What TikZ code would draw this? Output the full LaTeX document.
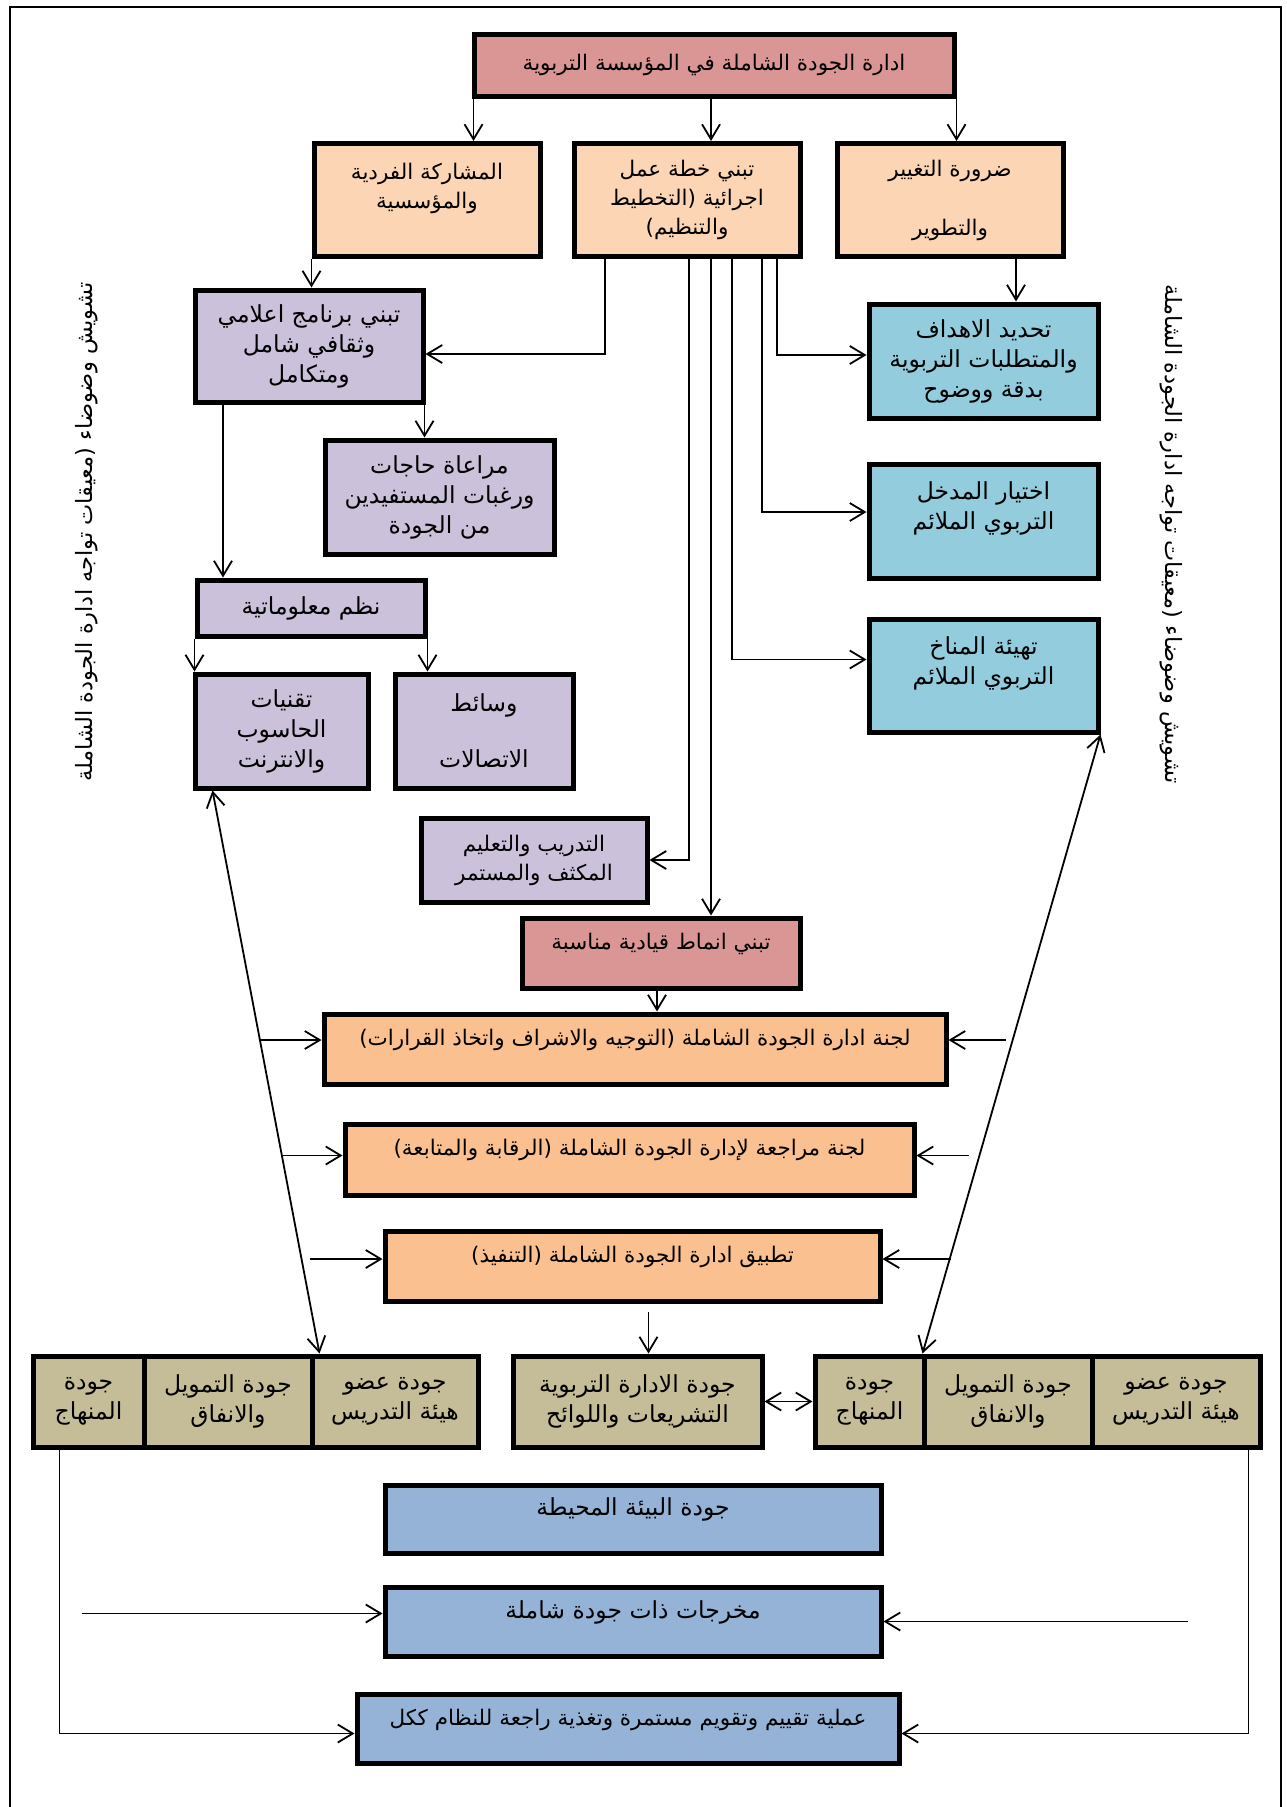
\documentclass[tikz,border=0pt]{standalone}
\usepackage{fontspec}
\usepackage{xcolor}
\usetikzlibrary{arrows.meta,positioning}
\TeXXeTstate=1
\newfontfamily\arabicfont[Script=Arabic]{DejaVu Sans}
\newcommand\artxt[1]{{\arabicfont\beginR #1\endR}}

\definecolor{rosebox}{HTML}{D99694}
\definecolor{peachbox}{HTML}{FCD5B5}
\definecolor{lilacbox}{HTML}{CCC1DA}
\definecolor{aquabox}{HTML}{93CDDD}
\definecolor{orangebox}{HTML}{FAC090}
\definecolor{tanbox}{HTML}{C4BD97}
\definecolor{bluebox}{HTML}{95B3D7}

\tikzset{
    box/.style={draw, line width=5pt, align=center, inner sep=2pt, font=\fontsize{21.5}{29}\selectfont},
    big/.style={font=\fontsize{23.5}{30}\selectfont},
    arr/.style={line width=1.8pt, -{Straight Barb[length=15pt,width=18pt]}},
    dbl/.style={line width=1.8pt, {Straight Barb[length=15pt,width=18pt]}-{Straight Barb[length=15pt,width=18pt]}},
    side/.style={font=\fontsize{22.5}{26}\selectfont}
}

\begin{document}
\begin{tikzpicture}[x=1pt,y=-1pt]
            \useasboundingbox (0,0) rectangle (1287,1807);
            \draw[line width=2.5pt] (10,1807) -- (10,7) -- (1281,7) -- (1281,1807);

            \node[box, fill=rosebox, minimum width=480pt, minimum height=62pt] (mgmt) at (714,65) {\artxt{ادارة الجودة الشاملة في المؤسسة التربوية}};

            \node[box, fill=peachbox, minimum width=226pt, minimum height=113pt] (share) at (427,200) {\artxt{المشاركة الفردية}\\\artxt{والمؤسسية}\\\mbox{}};
            \node[box, fill=peachbox, minimum width=226pt, minimum height=113pt] (plan) at (687,200) {\artxt{تبني خطة عمل}\\\artxt{اجرائية (التخطيط}\\\artxt{والتنظيم)}};
            \node[box, fill=peachbox, minimum width=226pt, minimum height=113pt] (change) at (950,200) {\artxt{ضرورة التغيير}\\[30pt]\artxt{والتطوير}};

            \node[box, big, fill=lilacbox, minimum width=228pt, minimum height=112pt] (media) at (309,346) {\artxt{تبني برنامج اعلامي}\\\artxt{وثقافي شامل}\\\artxt{ومتكامل}};
            \node[box, big, fill=lilacbox, minimum width=229pt, minimum height=114pt] (needs) at (439.5,497) {\artxt{مراعاة حاجات}\\\artxt{ورغبات المستفيدين}\\\artxt{من الجودة}};
            \node[box, big, fill=lilacbox, minimum width=228pt, minimum height=56pt] (info) at (311,608) {\artxt{نظم معلوماتية}};
            \node[box, big, fill=lilacbox, minimum width=173pt, minimum height=114pt] (tech) at (281.5,731) {\artxt{تقنيات}\\\artxt{الحاسوب}\\\artxt{والانترنت}};
            \node[box, big, fill=lilacbox, minimum width=178pt, minimum height=114pt] (comm) at (484,731) {\artxt{وسائط}\\[26pt]\artxt{الاتصالات}};
            \node[box, fill=lilacbox, minimum width=226pt, minimum height=84pt] (train) at (534,860) {\artxt{التدريب والتعليم}\\\artxt{المكثف والمستمر}};
            \node[box, fill=rosebox, minimum width=278pt, minimum height=70pt, text depth=24pt] (lead) at (661,953) {\artxt{تبني انماط قيادية مناسبة}};

            \node[box, big, fill=aquabox, minimum width=229pt, minimum height=114pt] (goals) at (983.5,361) {\artxt{تحديد الاهداف}\\\artxt{والمتطلبات التربوية}\\\artxt{بدقة ووضوح}};
            \node[box, big, fill=aquabox, minimum width=229pt, minimum height=114pt] (approach) at (983.5,521) {\artxt{اختيار المدخل}\\\artxt{التربوي الملائم}\\\mbox{}};
            \node[box, big, fill=aquabox, minimum width=229pt, minimum height=113pt] (climate) at (983.5,675.5) {\artxt{تهيئة المناخ}\\\artxt{التربوي الملائم}\\\mbox{}};

            \node[box, fill=orangebox, minimum width=622pt, minimum height=70pt, text depth=24pt] (board) at (635,1049) {\artxt{لجنة ادارة الجودة الشاملة (التوجيه والاشراف واتخاذ القرارات)}};
            \node[box, fill=orangebox, minimum width=569pt, minimum height=71pt, text depth=24pt] (review) at (629.5,1159.5) {\artxt{لجنة مراجعة لإدارة الجودة الشاملة (الرقابة والمتابعة)}};
            \node[box, fill=orangebox, minimum width=495pt, minimum height=70pt, text depth=24pt] (apply) at (632.5,1266) {\artxt{تطبيق ادارة الجودة الشاملة (التنفيذ)}};

            \node[box, big, fill=tanbox, minimum width=111pt, minimum height=91pt] (lc1) at (88.5,1401.5) {\artxt{جودة}\\\artxt{المنهاج}};
            \node[box, big, fill=tanbox, minimum width=168pt, minimum height=91pt] (lc2) at (228,1401.5) {\artxt{جودة التمويل}\\\artxt{والانفاق}};
            \node[box, big, fill=tanbox, minimum width=166pt, minimum height=91pt] (lc3) at (395,1401.5) {\artxt{جودة عضو}\\\artxt{هيئة التدريس}};
            \node[box, big, fill=tanbox, minimum width=249pt, minimum height=91pt] (law) at (637.5,1401.5) {\artxt{جودة الادارة التربوية}\\\artxt{التشريعات واللوائح}};
            \node[box, big, fill=tanbox, minimum width=109pt, minimum height=91pt] (rc1) at (869.5,1401.5) {\artxt{جودة}\\\artxt{المنهاج}};
            \node[box, big, fill=tanbox, minimum width=168pt, minimum height=91pt] (rc2) at (1008,1401.5) {\artxt{جودة التمويل}\\\artxt{والانفاق}};
            \node[box, big, fill=tanbox, minimum width=168pt, minimum height=91pt] (rc3) at (1176,1401.5) {\artxt{جودة عضو}\\\artxt{هيئة التدريس}};

            \node[box, big, fill=bluebox, minimum width=496pt, minimum height=68pt, text depth=24pt] (env) at (633,1519) {\artxt{جودة البيئة المحيطة}};
            \node[box, big, fill=bluebox, minimum width=496pt, minimum height=69pt, text depth=24pt] (outputs) at (633,1621.5) {\artxt{مخرجات ذات جودة شاملة}};
            \node[box, fill=bluebox, minimum width=542pt, minimum height=69pt, text depth=22pt] (eval) at (628,1728.5) {\artxt{عملية تقييم وتقويم مستمرة وتغذية راجعة للنظام ككل}};

            \node[side, rotate=90] (noiseL) at (87,532) {\artxt{تشويش وضوضاء (معيقات تواجه ادارة الجودة الشاملة}};
            \node[side, rotate=-90] (noiseR) at (1171,534) {\artxt{تشويش وضوضاء (معيقات تواجه ادارة الجودة الشاملة}};

            \draw[arr] ([xshift=2pt]mgmt.south west) -- ([xshift=2pt]mgmt.south west |- share.north);
            \draw[arr] ([xshift=-3pt]mgmt.south) -- ([xshift=-3pt]mgmt.south |- plan.north);
            \draw[arr] (mgmt.south east) -- (mgmt.south east |- change.north);
            \draw[arr] (share.south west) -- (share.south west |- media.north);
            \draw[arr] ([xshift=66pt]change.south) -- ([xshift=66pt]change.south |- goals.north);

            \draw[arr] ([xshift=-82pt]plan.south) |- ([yshift=-8pt]media.east);
            \draw[arr] ([xshift=2pt]plan.south) |- (train.east);
            \draw[arr] ([xshift=24pt]plan.south) -- ([xshift=24pt]plan.south |- lead.north);
            \draw[arr] ([xshift=45pt]plan.south) |- ([yshift=16pt]climate.west);
            \draw[arr] ([xshift=75pt]plan.south) |- ([yshift=9pt]approach.west);
            \draw[arr] ([xshift=90pt]plan.south) |- ([yshift=6pt]goals.west);

            \draw[arr] ([xshift=-1pt]media.south east) -- ([xshift=-1pt]media.south east |- needs.north);
            \draw[arr] ([xshift=-86pt]media.south) -- ([xshift=-86pt]media.south |- info.north);
            \draw[arr] (info.south west) -- (info.south west |- tech.north);
            \draw[arr] (info.south east) -- (info.south east |- comm.north);

            \draw[arr] ([xshift=-4pt]lead.south) -- ([xshift=-4pt]lead.south |- board.north);
            \draw[arr] ([xshift=16pt,yshift=-8pt]apply.south) -- ([xshift=16pt]apply.south |- law.north);
            \draw[dbl] (law.east) -- (rc1.west);

            \draw[dbl] ([xshift=20pt]tech.south west) -- ([xshift=10pt]lc3.north west);
            \draw[dbl] (climate.south east) -- ([xshift=-4pt]rc1.north east);

            \draw[arr] ([xshift=-63pt,yshift=9pt]board.west) -- ([yshift=9pt]board.west);
            \draw[arr] ([xshift=57pt,yshift=9pt]board.east) -- ([yshift=9pt]board.east);
            \draw[arr] ([xshift=-60pt,yshift=4pt]review.west) -- ([yshift=4pt]review.west);
            \draw[arr] ([xshift=52pt,yshift=4pt]review.east) -- ([yshift=4pt]review.east);
            \draw[arr] ([xshift=-73pt,yshift=7pt]apply.west) -- ([yshift=7pt]apply.west);
            \draw[arr] ([xshift=68pt,yshift=7pt]apply.east) -- ([yshift=7pt]apply.east);

            \draw[arr] ([xshift=-301pt,yshift=8pt]outputs.west) -- ([yshift=8pt]outputs.west);
            \draw[arr] ([xshift=304pt]outputs.east) -- (outputs.east);
            \draw[arr] ([xshift=29pt]lc1.south west) |- ([yshift=-5pt]eval.west);
            \draw[arr] ([xshift=-14pt]rc3.south east) |- ([yshift=-5pt]eval.east);
\end{tikzpicture}
\end{document}
